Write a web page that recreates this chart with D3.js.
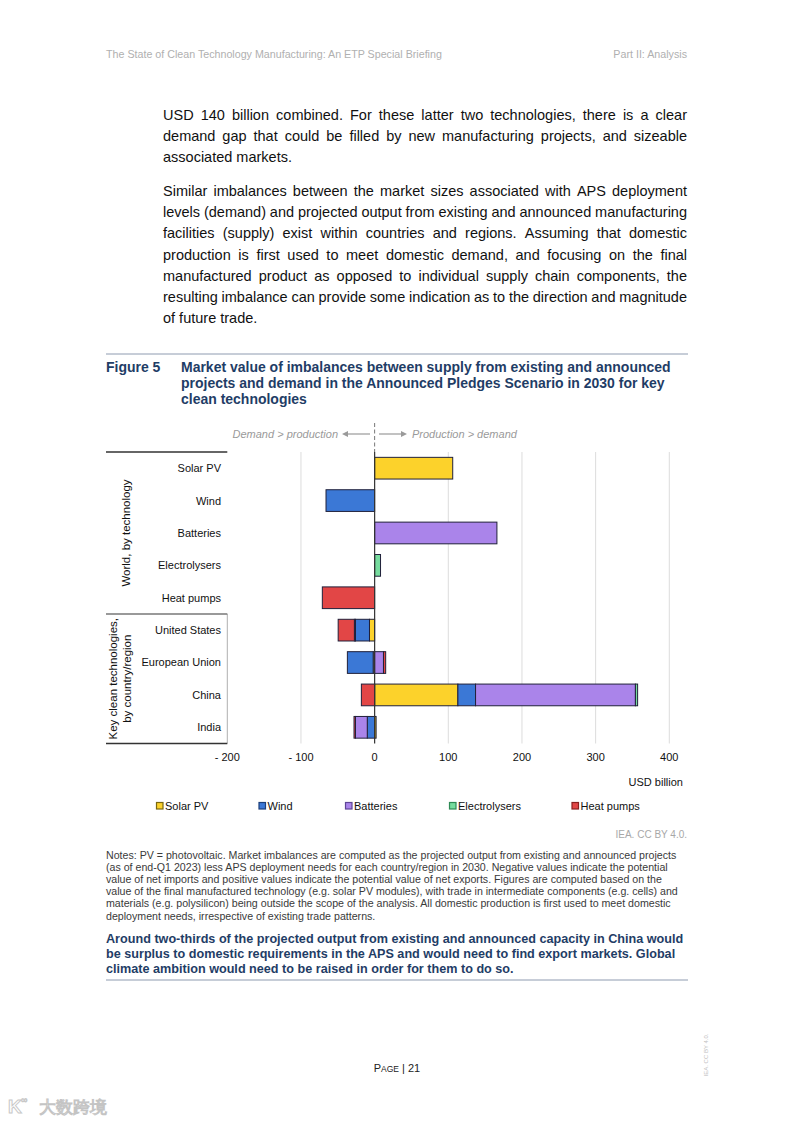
<!DOCTYPE html>
<html><head><meta charset="utf-8">
<script src="https://cdn.jsdelivr.net/npm/d3@7"></script>
<style>
body{margin:0;background:#fff}
svg{display:block}
text{font-family:"Liberation Sans",Arial,Helvetica,sans-serif}
</style>
</head><body>
<svg id="page" width="793" height="1122"></svg>
<script>
// ---------------- data ----------------
const categories = ["Solar PV","Wind","Batteries","Electrolysers","Heat pumps","United States","European Union","China","India"];
const seriesNames = ["Solar PV","Wind","Batteries","Electrolysers","Heat pumps"];
const solarPV      = [106,   0,   0, 0,   0,  -7,  -2, 113,   2];
const wind         = [  0, -66,   0, 0,   0, -19, -35,  24, -10];
const batteries    = [  0,   0, 166, 0,   0, -1.5, 12, 217, -16];
const electrolysers= [  0,   0,   0, 8,   0,   0,   0,   3,   0];
const heatPumps    = [  0,   0,   0, 0, -71, -22,   3, -18,  -2];
const xTicks = [-200,-100,0,100,200,300,400];
const xTickLabels = ["- 200","- 100","0","100","200","300","400"];
const groupLabels = [["World, by technology"],["Key clean technologies,","by country/region"]];

const fills   = ["#fcd22b","#3b78d6","#aa84ea","#76dc9e","#e24646"];
const mstroke = ["#7a6810","#1d3f7a","#5e4596","#2e8a55","#8a2020"];

// ---------------- page ----------------
const svg = d3.select("#page");

function addText(g, str, x, y, o={}) {
  return g.append("text").attr("x",x).attr("y",y).text(str)
    .attr("font-size",o.size||11).attr("font-weight",o.weight||"normal")
    .attr("font-style",o.style||"normal").attr("fill",o.fill||"#000")
    .attr("text-anchor",o.anchor||"start");
}
function fitSize(str, target, o) {
  const t = addText(svg, str, 0, -100, Object.assign({}, o, {size:20}));
  const w = t.node().getComputedTextLength(); t.remove();
  return 20*target/w;
}
function justifyLine(g, str, x0, x1, y, o) {
  const t = g.append("text").attr("y",y)
    .attr("font-size",o.size).attr("font-weight",o.weight||"normal").attr("fill",o.fill||"#000");
  const words = str.split(" ");
  const spans = words.map(w => t.append("tspan").text(w));
  const ws = spans.map(s => s.node().getComputedTextLength());
  const gap = words.length>1 ? ((x1-x0) - d3.sum(ws))/(words.length-1) : 0;
  let x = x0;
  spans.forEach((s,i)=>{ s.attr("x",x); x += ws[i]+gap; });
}

// header
const hdrSize = fitSize("The State of Clean Technology Manufacturing: An ETP Special Briefing", 336, {});
addText(svg,"The State of Clean Technology Manufacturing: An ETP Special Briefing",106,57.5,{size:hdrSize,fill:"#b0b0b0"});
addText(svg,"Part II: Analysis",687,57.5,{size:hdrSize,fill:"#b0b0b0",anchor:"end"});

// body paragraphs
const p1 = ["USD 140 billion combined. For these latter two technologies, there is a clear",
            "demand gap that could be filled by new manufacturing projects, and sizeable",
            "associated markets."];
const p2 = ["Similar imbalances between the market sizes associated with APS deployment",
            "levels (demand) and projected output from existing and announced manufacturing",
            "facilities (supply) exist within countries and regions. Assuming that domestic",
            "production is first used to meet domestic demand, and focusing on the final",
            "manufactured product as opposed to individual supply chain components, the",
            "resulting imbalance can provide some indication as to the direction and magnitude",
            "of future trade."];
const bodySize = 14.5;
p1.forEach((l,i)=>{
  if (i<p1.length-1) justifyLine(svg,l,163,687,120+i*21,{size:bodySize,fill:"#111"});
  else addText(svg,l,163,120+i*21,{size:bodySize,fill:"#111"});
});
p2.forEach((l,i)=>{
  if (i<p2.length-1) justifyLine(svg,l,163,687,196+i*21.2,{size:bodySize,fill:"#111"});
  else addText(svg,l,163,196+i*21.2,{size:bodySize,fill:"#111"});
});

// figure title
svg.append("line").attr("x1",106).attr("x2",688).attr("y1",354).attr("y2",354).attr("stroke","#8e9bb0").attr("stroke-width",1);
const navy = "#1f3d66";
const titleLines = ["Market value of imbalances between supply from existing and announced",
                    "projects and demand in the Announced Pledges Scenario in 2030 for key",
                    "clean technologies"];
const tSize = fitSize(titleLines[0], 490, {weight:"bold"});
addText(svg,"Figure 5",106,372,{size:tSize,weight:"bold",fill:navy});
titleLines.forEach((l,i)=>addText(svg,l,181,372+i*16,{size:tSize,weight:"bold",fill:navy}));

// ---------------- chart ----------------
const x = d3.scaleLinear().domain([-200,400]).range([227.3,669.3]);
const y = d3.scaleBand().domain(categories).range([452,743.5]).paddingInner(0.33).paddingOuter(0.165);
const chart = svg.append("g");

// gridlines
chart.append("g").selectAll("line").data(xTicks.filter(v=>v!==0 && v!==-200)).join("line")
  .attr("x1",d=>x(d)).attr("x2",d=>x(d)).attr("y1",452).attr("y2",743.5)
  .attr("stroke","#dcdcdc").attr("stroke-width",1);

const sepY = (y(categories[4])+y.bandwidth()+y(categories[5]))/2;
// vertical separator next to lower group
chart.append("line").attr("x1",x(-200)).attr("x2",x(-200)).attr("y1",sepY).attr("y2",743.5)
  .attr("stroke","#b0b0b0").attr("stroke-width",1);

// stacked bars
const rows = categories.map((c,i)=>({cat:c,"Solar PV":solarPV[i],"Wind":wind[i],"Batteries":batteries[i],"Electrolysers":electrolysers[i],"Heat pumps":heatPumps[i]}));
const stack = d3.stack().keys(seriesNames).offset(d3.stackOffsetDiverging)(rows);
chart.append("g").selectAll("g").data(stack).join("g")
  .attr("fill",(d,i)=>fills[i])
  .selectAll("rect").data(d=>d.filter(s=>s[1]-s[0]!==0)).join("rect")
  .attr("x",d=>x(Math.min(d[0],d[1]))).attr("width",d=>Math.abs(x(d[1])-x(d[0])))
  .attr("y",d=>y(d.data.cat)).attr("height",y.bandwidth())
  .attr("stroke","#20203a").attr("stroke-width",1);

// zero line
chart.append("line").attr("x1",x(0)).attr("x2",x(0)).attr("y1",452).attr("y2",743.5).attr("stroke","#333").attr("stroke-width",1.2);
chart.append("line").attr("x1",x(0)).attr("x2",x(0)).attr("y1",423).attr("y2",452).attr("stroke","#777").attr("stroke-width",1).attr("stroke-dasharray","4,2.5");

// direction annotations
const annG = chart.append("g");
const ac = "#9a9a9a";
addText(annG,"Demand > production",338,438,{size:11,style:"italic",fill:ac,anchor:"end"});
addText(annG,"Production > demand",412,438,{size:11,style:"italic",fill:ac});
annG.append("line").attr("x1",370).attr("x2",346).attr("y1",434).attr("y2",434).attr("stroke",ac).attr("stroke-width",1.2);
annG.append("path").attr("d","M342,434 L348,431 L348,437 Z").attr("fill",ac);
annG.append("line").attr("x1",379).attr("x2",403).attr("y1",434).attr("y2",434).attr("stroke",ac).attr("stroke-width",1.2);
annG.append("path").attr("d","M407,434 L401,431 L401,437 Z").attr("fill",ac);

// category labels
chart.append("g").selectAll("text").data(categories).join("text")
  .attr("x",221).attr("y",d=>y(d)+y.bandwidth()/2).attr("dy","0.36em")
  .attr("text-anchor","end").attr("font-size",11).attr("fill","#111").text(d=>d);

// label column rules
[[452,"#333"],[sepY,"#777"],[743.5,"#333"]].forEach(([yy,c])=>{
  chart.append("line").attr("x1",106).attr("x2",x(-200)).attr("y1",yy).attr("y2",yy).attr("stroke",c).attr("stroke-width",1.4);
});

// group labels (rotated)
const grpBounds = [[452,sepY],[sepY,743.5]];
groupLabels.forEach((lines,gi)=>{
  const cy = (grpBounds[gi][0]+grpBounds[gi][1])/2;
  const cx = gi===0 ? 130 : 131;
  lines.forEach((l,li)=>{
    const xx = cx - (lines.length-1-li)*14;
    svg.append("text").attr("transform",`translate(${xx},${cy}) rotate(-90)`)
      .attr("text-anchor","middle").attr("font-size",11.5).attr("fill","#111").text(l);
  });
});

// x axis labels
chart.append("g").selectAll("text").data(xTicks).join("text")
  .attr("x",d=>x(d)).attr("y",761).attr("text-anchor","middle").attr("font-size",11).attr("fill","#111")
  .text((d,i)=>xTickLabels[i]);
addText(chart,"USD billion",683,786,{size:11,fill:"#111",anchor:"end"});

// legend
const legX = [156.5,259,345.5,449.5,572];
const leg = chart.append("g").selectAll("g").data(seriesNames).join("g")
  .attr("transform",(d,i)=>`translate(${legX[i]},806)`);
leg.append("rect").attr("x",0).attr("y",-3.5).attr("width",6.5).attr("height",6.5)
  .attr("fill",(d,i)=>fills[i]).attr("stroke",(d,i)=>mstroke[i]).attr("stroke-width",1.2);
leg.append("text").attr("x",8.5).attr("y",4).attr("font-size",11).attr("fill","#111").text(d=>d);

addText(svg,"IEA. CC BY 4.0.",687,837.5,{size:10,fill:"#a8a8a8",anchor:"end"});

// notes
const notes = ["Notes: PV = photovoltaic. Market imbalances are computed as the projected output from existing and announced projects",
 "(as of end-Q1 2023) less APS deployment needs for each country/region in 2030. Negative values indicate the potential",
 "value of net imports and positive values indicate the potential value of net exports. Figures are computed based on the",
 "value of the final manufactured technology (e.g. solar PV modules), with trade in intermediate components (e.g. cells) and",
 "materials (e.g. polysilicon) being outside the scope of the analysis. All domestic production is first used to meet domestic",
 "deployment needs, irrespective of existing trade patterns."];
const nSize = fitSize(notes[0], 571, {});
notes.forEach((l,i)=>addText(svg,l,106,858.5+i*12.2,{size:nSize,fill:"#3a3a3a"}));

const bold = ["Around two-thirds of the projected output from existing and announced capacity in China would",
 "be surplus to domestic requirements in the APS and would need to find export markets. Global",
 "climate ambition would need to be raised in order for them to do so."];
const bSize = fitSize(bold[0], 578, {weight:"bold"});
bold.forEach((l,i)=>addText(svg,l,106,942.5+i*15,{size:bSize,weight:"bold",fill:navy}));
svg.append("line").attr("x1",106).attr("x2",688).attr("y1",980).attr("y2",980).attr("stroke","#8e9bb0").attr("stroke-width",1);

// footer
const pg = svg.append("text").attr("x",397).attr("y",1072).attr("text-anchor","middle").attr("fill","#222").attr("font-size",11);
pg.append("tspan").text("P");
pg.append("tspan").attr("font-size",8.5).text("AGE");
pg.append("tspan").text(" | 21");
svg.append("text").attr("transform","translate(708,1055) rotate(-90)").attr("text-anchor","middle")
  .attr("font-size",6).attr("fill","#c0c0c0").text("IEA. CC BY 4.0.");

// watermark
svg.append("text").attr("x",8).attr("y",1113).attr("font-size",19).attr("font-weight","bold")
  .attr("fill","#fff").attr("stroke","#c8c8c8").attr("stroke-width",1).text("K");
svg.append("text").attr("x",21).attr("y",1103).attr("font-size",9)
  .attr("fill","#fff").attr("stroke","#c8c8c8").attr("stroke-width",0.8).text("∞");
svg.append("text").attr("x",39).attr("y",1113).attr("font-size",17).attr("font-family",'"Noto Sans CJK SC",sans-serif')
  .attr("fill","#fff").attr("stroke","#c4c4c4").attr("stroke-width",1).text("大数跨境");
</script>
</body></html>
